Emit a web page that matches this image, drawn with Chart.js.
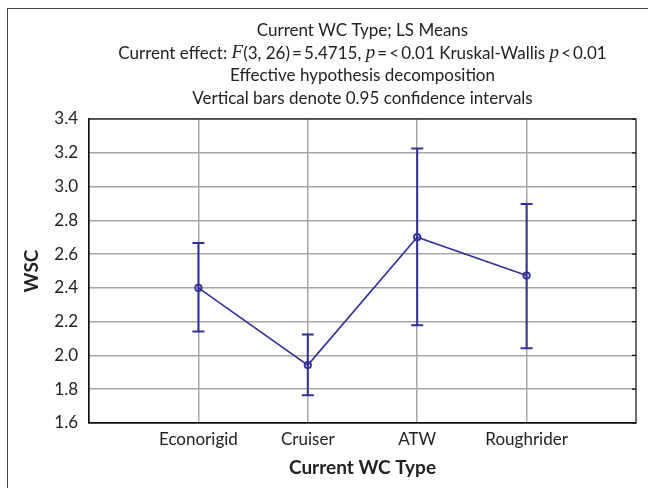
<!DOCTYPE html>
<html>
<head>
<meta charset="utf-8">
<script src="https://cdn.jsdelivr.net/npm/chart.js@4"></script>
<style>
  html, body { margin: 0; padding: 0; background: #fff; }
  #wrap { position: relative; width: 648px; height: 488px; }
  #frame { position: absolute; left: 7px; top: 8px; width: 660px; height: 500px; border-left: 1px solid #444; border-top: 1px solid #444; }
  canvas { position: absolute; left: 0; top: 0; }
</style>
</head>
<body>
<div id="wrap">
  <div id="frame"></div>
  <canvas id="chart" width="648" height="488"></canvas>
</div>
<script>
// Données du graphique
const categories = ["Econorigid", "Cruiser", "ATW", "Roughrider"];
const meanValues = [2.40, 1.943, 2.70, 2.473];
const lowerCI = [2.142, 1.765, 2.179, 2.043];
const upperCI = [2.666, 2.124, 3.226, 2.896];
const yTicks = [1.6, 1.8, 2.0, 2.2, 2.4, 2.6, 2.8, 3.0, 3.2, 3.4];

const navy = "rgb(50, 48, 150)";
const sans = "Lato, 'Liberation Sans', sans-serif";
const serif = "'Liberation Serif', 'DejaVu Serif', serif";

// Titre en plusieurs morceaux (police mixte)
const titleLines = [
  [["Current WC Type; LS Means", "n"]],
  [["Current effect: ", "n"], ["F", "i"], ["(3, 26)\u2009=\u20095.4715, ", "n"], ["p", "i"],
   ["\u2009=\u2009<\u20090.01 Kruskal-Wallis ", "n"], ["p", "i"], ["\u2009<\u20090.01", "n"]],
  [["Effective hypothesis decomposition", "n"]],
  [["Vertical bars denote 0.95 confidence intervals", "n"]]
];

const decorPlugin = {
  id: "decor",
  afterDraw(chart) {
    const ctx = chart.ctx;
    const area = chart.chartArea;
    const xs = chart.scales.x, ys = chart.scales.y;
    ctx.save();

    // Barres d'erreur
    ctx.strokeStyle = navy;
    ctx.lineWidth = 2;
    meanValues.forEach((m, i) => {
      const px = xs.getPixelForValue(i + 1);
      const top = ys.getPixelForValue(upperCI[i]);
      const bot = ys.getPixelForValue(lowerCI[i]);
      ctx.beginPath();
      ctx.moveTo(px, top); ctx.lineTo(px, bot);
      ctx.moveTo(px - 6, top); ctx.lineTo(px + 6, top);
      ctx.moveTo(px - 6, bot); ctx.lineTo(px + 6, bot);
      ctx.stroke();
    });

    // Cadre du graphique + petites graduations à droite
    ctx.strokeStyle = "#111";
    ctx.lineWidth = 1.2;
    ctx.strokeRect(area.left, area.top, area.right - area.left, area.bottom - area.top);
    ctx.beginPath();
    yTicks.forEach(v => {
      const py = ys.getPixelForValue(v);
      ctx.moveTo(area.right - 4, py); ctx.lineTo(area.right, py);
    });
    ctx.stroke();

    // Titre
    const cx = (area.left + area.right) / 2;
    ctx.fillStyle = "#222";
    ctx.textBaseline = "middle";
    titleLines.forEach((line, li) => {
      const y = 31 + li * 22.4;
      let total = 0;
      const fonts = line.map(([t, s]) => s === "i" ? "italic 19px " + serif : "17px " + sans);
      line.forEach(([t], k) => { ctx.font = fonts[k]; total += ctx.measureText(t).width; });
      let x = cx - total / 2;
      ctx.textAlign = "left";
      line.forEach(([t], k) => {
        ctx.font = fonts[k];
        ctx.fillText(t, x, y);
        x += ctx.measureText(t).width;
      });
    });

    // Titres des axes
    ctx.font = "bold 19px " + sans;
    ctx.textAlign = "center";
    ctx.fillText("Current WC Type", cx, 468);
    ctx.translate(32, 271);
    ctx.rotate(-Math.PI / 2);
    ctx.fillText("WSC", 0, 0);
    ctx.restore();
  }
};

const ctx = document.getElementById("chart").getContext("2d");
new Chart(ctx, {
  type: "line",
  data: {
    datasets: [{
      data: meanValues.map((v, i) => ({ x: i + 1, y: v })),
      borderColor: navy,
      borderWidth: 1.6,
      pointRadius: 3.2,
      pointBorderWidth: 1.8,
      pointBackgroundColor: "rgba(255,255,255,0)",
      pointBorderColor: navy,
      tension: 0
    }]
  },
  options: {
    responsive: false,
    animation: false,
    layout: { padding: { top: 119, right: 12, left: 0, bottom: 0 } },
    plugins: { legend: { display: false }, tooltip: { enabled: false } },
    scales: {
      x: {
        type: "linear",
        min: 0,
        max: 5,
        afterBuildTicks: scale => { scale.ticks = categories.map((c, i) => ({ value: i + 1 })); },
        afterFit: scale => { scale.height = 65; },
        ticks: {
          callback: v => categories[v - 1] || "",
          color: "#222",
          font: { family: sans, size: 17 },
          padding: 6,
          maxRotation: 0
        },
        grid: { color: "#a6a6a6", lineWidth: 1.5, drawTicks: false },
        border: { color: "#111", width: 1.2 }
      },
      y: {
        min: 1.6,
        max: 3.4,
        afterBuildTicks: scale => { scale.ticks = yTicks.map(v => ({ value: v })); },
        afterFit: scale => { scale.width = 89; },
        ticks: {
          callback: v => v.toFixed(1),
          color: "#222",
          font: { family: sans, size: 17 },
          padding: 11
        },
        grid: { color: "#a6a6a6", lineWidth: 1.5, drawTicks: false },
        border: { color: "#111", width: 1.2 }
      }
    }
  },
  plugins: [decorPlugin]
});
</script>
</body>
</html>
